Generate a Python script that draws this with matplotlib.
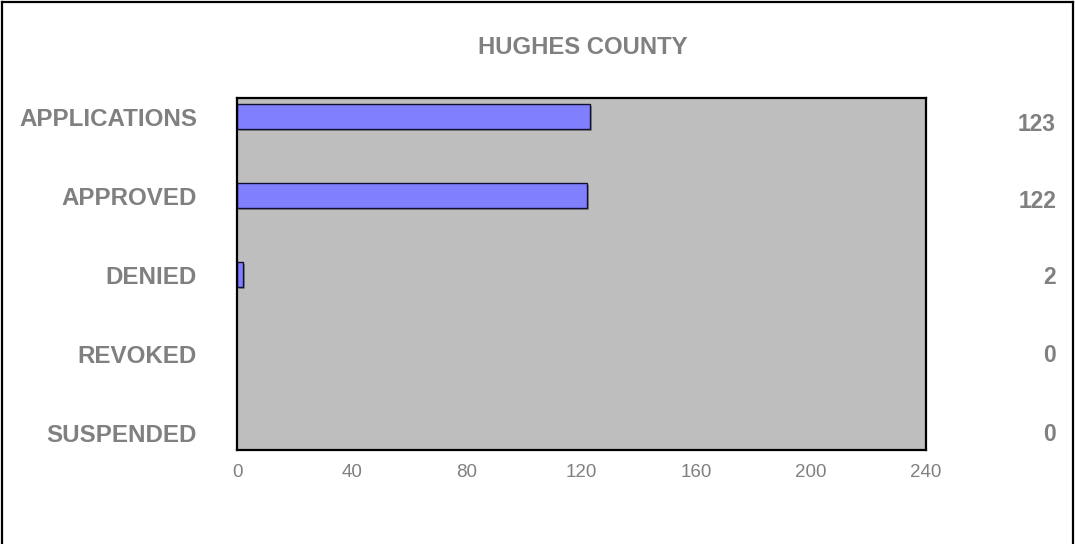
import matplotlib
matplotlib.use('Agg')
import matplotlib.pyplot as plt
import matplotlib.patheffects as pe
import matplotlib.transforms as mtransforms
from matplotlib.lines import Line2D

# Data
categories = ['APPLICATIONS', 'APPROVED', 'DENIED', 'REVOKED', 'SUSPENDED']
counts = [123, 122, 2, 0, 0]
x_ticks = [0, 40, 80, 120, 160, 200, 240]
title = 'HUGHES COUNTY'

# small vertical nudges (points) of the value labels, as in the original layout
value_nudge = [-6.1, -4.0, -2.2, -1.4, -1.4]

plt.rcParams['font.family'] = ['Liberation Sans', 'DejaVu Sans']
gray = '#808080'

fig = plt.figure(figsize=(10.75, 5.44), dpi=100)
ax = fig.add_axes([0.2205, 0.1728, 0.6409, 0.6471])
ax.set_facecolor('#BEBEBE')

pos = list(range(len(categories)))
bars = ax.barh(pos, counts, height=0.32, color='#8080FF',
               edgecolor='#101030', linewidth=1.0)
for b, v in zip(bars, counts):
    if v == 0:
        b.set_visible(False)
        continue
    b.set_path_effects([pe.SimplePatchShadow(offset=(1.5, -1.5), shadow_rgbFace='#7a7a7a', alpha=0.8),
                        pe.Normal()])

ax.set_xlim(0, 240)
ax.set_ylim(4.222, -0.234)
ax.set_xticks(x_ticks)
ax.set_xticklabels([str(t) for t in x_ticks], fontsize=13.5, color=gray)
ax.set_yticks([])
ax.tick_params(axis='x', length=0, pad=10)
for s in ax.spines.values():
    s.set_linewidth(1.6)
    s.set_color('black')

# category labels on the left, values on the right
trans = ax.get_yaxis_transform()
for i, (c, v) in enumerate(zip(categories, counts)):
    ax.text(-0.058, i + 0.035, c, transform=trans, ha='right', va='center',
            fontsize=17.4, fontweight='bold', color=gray)
    t = mtransforms.offset_copy(trans, fig=fig, x=0, y=value_nudge[i], units='points')
    ax.text(1.1887, i, str(v), transform=t, ha='right', va='center',
            fontsize=16.4, fontweight='bold', color=gray)

fig.text(0.5419, 0.913, title, ha='center', va='center',
         fontsize=17.2, fontweight='bold', color=gray)

# outer frame (bottom edge falls off the image)
for xs, ys in [([0.002, 0.002], [0, 0.997]), ([0.002, 0.9985], [0.997, 0.997]),
               ([0.9985, 0.9985], [0, 0.997])]:
    fig.add_artist(Line2D(xs, ys, transform=fig.transFigure, color='black', linewidth=1.6))

fig.savefig('out.png', dpi=100)
